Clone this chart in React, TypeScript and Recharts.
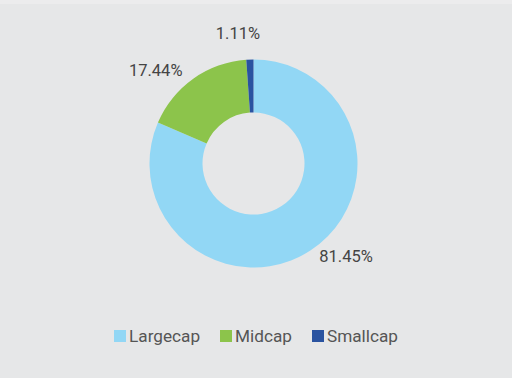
import { PieChart, Pie, Cell } from "recharts";

const CATEGORIES = ["Largecap", "Midcap", "Smallcap"];
const SHARES = [81.45, 17.44, 1.11];
const COLORS = ["#92d7f5", "#8cc44b", "#2a53a0"];

const data = CATEGORIES.map((name, i) => ({ name, value: SHARES[i] }));

const RAD = Math.PI / 180;

const renderLabel = (props: any) => {
  const { cx, cy, midAngle, outerRadius, value } = props;
  const cos = Math.cos(-midAngle * RAD);
  const sin = Math.sin(-midAngle * RAD);
  const anchor = Math.abs(cos) < 0.2 ? "middle" : cos > 0 ? "start" : "end";
  const r = outerRadius + (anchor === "middle" ? 26 : 10);
  // top label sits a little left of the slice, side labels pushed outward a bit
  const shift = anchor === "middle" ? -11 : anchor === "start" ? 3 : -5;
  return (
    <text
      x={cx + r * cos + shift}
      y={cy + r * sin - (anchor === "start" ? 2 : 0)}
      textAnchor={anchor}
      dominantBaseline="central"
      fill="#444"
      fontSize={16.5}
      fontFamily="Roboto"
    >
      {value.toFixed(2)}%
    </text>
  );
};

export default function App() {
  return (
    <div
      style={{
        position: "absolute",
        left: 0,
        top: 0,
        width: 512,
        height: 378,
        background: "#e6e7e8",
        fontFamily: "Roboto",
      }}
    >
      <div style={{ position: "absolute", left: 0, top: 0, width: 512, height: 4, background: "#ececed" }} />
      <PieChart width={512} height={378} margin={{ top: 0, right: 0, bottom: 0, left: 0 }}>
        <Pie
          data={data}
          dataKey="value"
          cx={253.5}
          cy={163.5}
          innerRadius={51}
          outerRadius={104}
          startAngle={90}
          endAngle={-270}
          stroke="none"
          label={renderLabel}
          labelLine={false}
          isAnimationActive={false}
        >
          {data.map((_, i) => (
            <Cell key={i} fill={COLORS[i]} />
          ))}
        </Pie>
      </PieChart>
      <div
        style={{
          position: "absolute",
          left: 0,
          top: 325,
          width: 512,
          display: "flex",
          justifyContent: "center",
          fontSize: 17.2,
          color: "#555",
          lineHeight: "22px",
        }}
      >
        {CATEGORIES.map((c, i) => (
          <div key={c} style={{ display: "flex", alignItems: "center", marginRight: i < 2 ? 20 : 0 }}>
            <span style={{ width: 12, height: 12, background: COLORS[i], marginRight: 3, display: "inline-block" }} />
            <span>{c}</span>
          </div>
        ))}
      </div>
    </div>
  );
}
